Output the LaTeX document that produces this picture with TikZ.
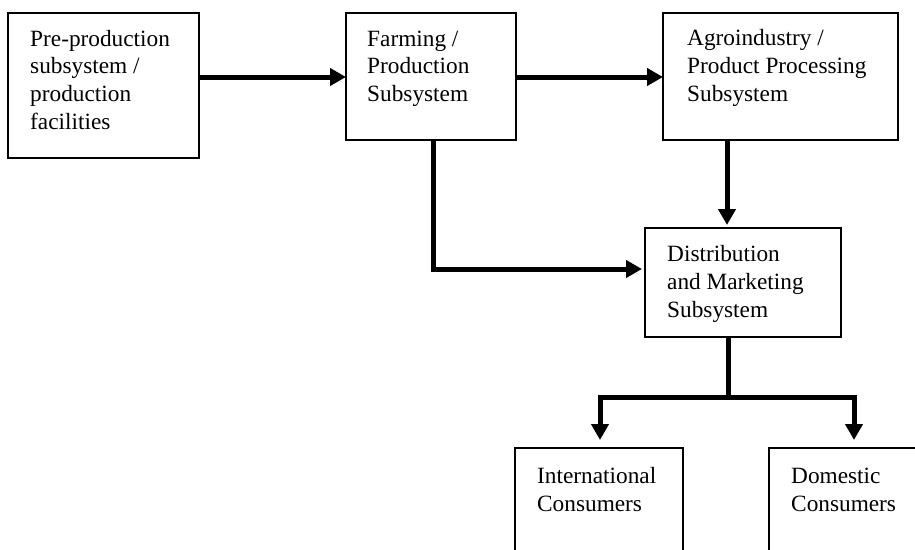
\documentclass[tikz,border=0pt]{standalone}
\usepackage{fontspec}
\setmainfont{Liberation Serif}
\usetikzlibrary{arrows.meta}
\begin{document}
\begin{tikzpicture}[x=1pt,y=-1pt,
  boxnode/.style={draw=black,line width=1.8pt,rectangle,anchor=north west,inner sep=0pt,outer sep=0pt},
  lbl/.style={anchor=base west,align=left,inner sep=0pt,font=\fontsize{23.3}{27.8}\selectfont},
  arr/.style={line width=5pt,-{Triangle[length=16pt,width=17pt]},line join=miter},
  thick5/.style={line width=5pt,line join=miter}]
\useasboundingbox (0,0) rectangle (915,549);
\clip (0,0) rectangle (915,549);
\node[boxnode,minimum width=191pt,minimum height=145pt] (b1) at (8,13) {};
\node[boxnode,minimum width=170pt,minimum height=127pt] (b2) at (346,13) {};
\node[boxnode,minimum width=235pt,minimum height=127pt] (b3) at (663,13) {};
\node[boxnode,minimum width=196pt,minimum height=109pt] (b4) at (645,228) {};
\node[boxnode,minimum width=168pt,minimum height=130pt] (b5) at (515,448) {};
\node[boxnode,minimum width=170pt,minimum height=130pt] (b6) at (769,448) {};

% anchor base west = baseline of the last line
\node[lbl] (t1) at ([shift={(22,116.4)}]b1.north west) {Pre-production\\subsystem /\\production\\facilities};
\node[lbl] (t2) at ([shift={(21,88.6)}]b2.north west) {Farming /\\Production\\Subsystem};
\node[lbl] (t3) at ([shift={(24,88)}]b3.north west) {Agroindustry /\\Product Processing\\Subsystem};
\node[lbl] (t4) at ([shift={(22,89)}]b4.north west) {Distribution\\and Marketing\\Subsystem};
\node[lbl] (t5) at ([shift={(22,63)}]b5.north west) {International\\Consumers};
\node[lbl] (t6) at ([shift={(22,63)}]b6.north west) {Domestic\\Consumers};

\coordinate (split) at (728,397);
\coordinate (bend) at (433,269);

\draw[arr] (b1.east |- 0,77) -- (b2.west |- 0,77);
\draw[arr] (b2.east |- 0,77) -- (b3.west |- 0,77);
\draw[arr] (b3.south -| 727,0) -- ([yshift=3pt]b4.north -| 727,0);
\draw[arr] (b2.south -| bend) -- (bend) -- ([xshift=-3pt]b4.west |- bend);
\draw[thick5] (b4.south -| split) -- (split);
\draw[thick5,{Triangle[length=16pt,width=17pt]}-{Triangle[length=16pt,width=17pt]}]
  ([yshift=8pt]b5.north -| 600,0) -- (600,397) -- (854,397) -- ([yshift=8pt]b6.north -| 854,0);
\end{tikzpicture}
\end{document}
